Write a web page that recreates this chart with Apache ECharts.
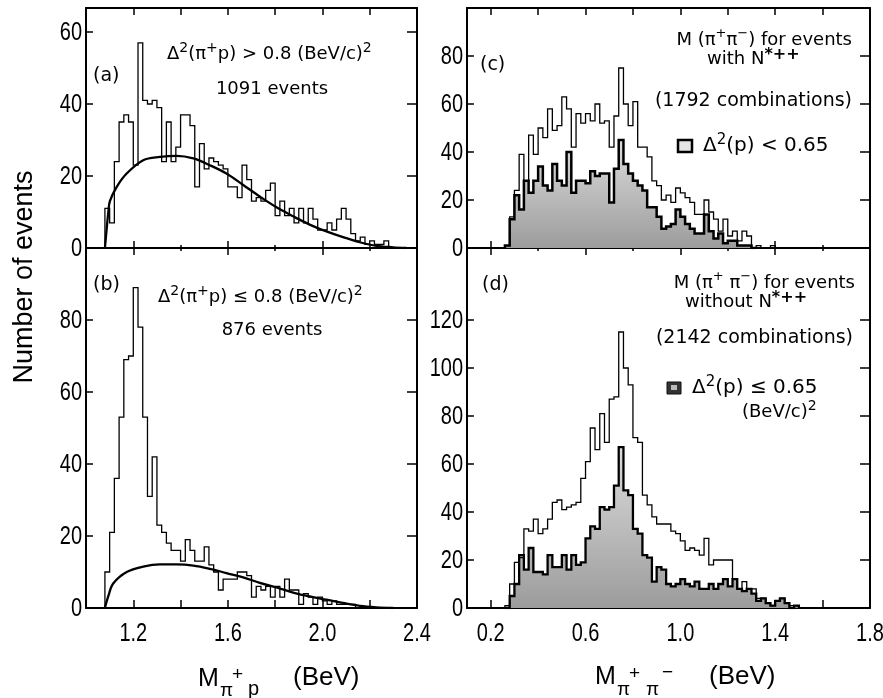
<!DOCTYPE html>
<html><head><meta charset="utf-8">
<script src="https://cdn.jsdelivr.net/npm/echarts@6/dist/echarts.min.js"></script>
<style>html,body{margin:0;padding:0;background:#fff}#c{width:883px;height:698px}</style>
</head><body><div id="c"></div>
<script>
// ---------- data ----------
const binWidth = 0.02;
// (a) M(pi+ p), Delta^2 > 0.8, 1091 events
const aStart = 1.08;
const aCounts = [11,7,24,35,37,35,23,57,41,40,41,39,24,35,24,28,37,37,34,17,29,22,25,24,23,22,17,17,14,23,19,13,14,13,16,18,9,13,9,11,7,11,7,11,8,5,5,7,5,8,11,8,4,2,3,1,2,1,1,2];
const aFitX = [1.08,1.087,1.094,1.101,1.13,1.172,1.242,1.313,1.383,1.454,1.524,1.594,1.665,1.735,1.806,1.876,1.946,2.017,2.087,2.158,2.228,2.299,2.355];
const aFitY = [0,5,9.7,13,17,20.7,24.4,25.3,25.6,24.9,23,20.7,17.5,14.3,11.3,8.8,6.5,4.6,3,1.6,0.6,0.2,0];
// (b) M(pi+ p), Delta^2 <= 0.8, 876 events
const bStart = 1.08;
const bCounts = [10,21,36,53,69,70,89,78,53,31,42,23,21,18,16,16,13,19,16,13,13,17,12,10,5,8,8,8,10,10,9,3,6,5,6,3,6,3,8,5,5,1,4,3,1,3,2,1,2,1,1,1,1];
const bFitX = [1.08,1.094,1.115,1.172,1.242,1.313,1.383,1.454,1.524,1.594,1.665,1.735,1.806,1.876,1.946,2.017,2.087,2.158,2.228,2.3];
const bFitY = [0,3.2,6.8,10,11.5,12.1,12.1,11.8,10.9,9.7,8.5,7,5.7,4.3,3.2,2.3,1.4,0.6,0.2,0];
// (c) M(pi+ pi-) with N*++ : all combinations and Delta^2(p) < 0.65
const cStart = 0.26;
const cAll = [1,13,24,39,28,47,39,50,46,58,49,51,63,58,42,56,52,56,53,60,52,53,42,55,75,60,51,61,42,42,38,28,26,20,22,19,25,23,21,19,14,14,20,15,12,7,12,5,7,3,7,5,0,1,0,0,1];
const cSel = [1,12,22,16,28,23,28,34,26,24,35,28,26,40,23,28,28,27,32,30,31,31,19,33,45,35,31,28,26,24,17,17,13,8,9,10,16,13,10,8,6,6,14,7,4,6,2,3,3,1,1,1,0];
// (d) M(pi+ pi-) without N*++ : all combinations and Delta^2(p) <= 0.65
const dStart = 0.26;
const dAll = [1,10,19,21,33,32,37,31,33,37,44,45,41,42,43,44,54,61,75,66,81,69,87,88,115,100,93,71,69,47,43,38,35,35,35,32,31,28,24,25,24,22,29,18,20,20,20,20,12,8,11,8,8,4,4,2,1,3,4,2,1,1];
const dSel = [0,5,10,22,16,25,15,15,14,22,17,17,22,16,22,18,19,29,34,33,42,41,42,51,67,49,47,33,31,22,21,11,17,16,10,9,10,12,10,9,11,8,8,10,8,10,12,9,12,8,7,8,6,3,4,2,1,3,4,2,0,1];
// axes ticks / labels
const leftXTicks = [1.2,1.4,1.6,1.8,2.0,2.2];
const leftXMajor = [1.2,1.6,2.0];
const leftXMinor = [1.4,1.8,2.2];
const leftXLabels = [1.2,1.6,2.0,2.4];
const rightXTicks = [0.2,0.4,0.6,0.8,1.0,1.2,1.4,1.6];
const rightXMajor = [0.2,0.6,1.0,1.4];
const rightXMinor = [0.4,0.8,1.2,1.6];
const rightXLabels = [0.2,0.6,1.0,1.4,1.8];
const aYLabels = [0,20,40,60], aYTicks = [20,40,60];
const bYLabels = [0,20,40,60,80], bYTicks = [20,40,60,80];
const cYLabels = [0,20,40,60,80], cYTicks = [20,40,60,80];
const dYLabels = [0,20,40,60,80,100,120], dYTicks = [20,40,60,80,100,120];

// ---------- helpers ----------
const BLACK = '#000';
const tickFont = "'Liberation Sans',Arial,sans-serif";
const annFont = "'DejaVu Sans',sans-serif";
const titleFont = "'Liberation Sans',Arial,sans-serif";
function steps(start, counts) {
  const pts = [[start, 0]];
  counts.forEach((v, i) => pts.push([+(start + i * binWidth).toFixed(3), v]));
  pts.push([+(start + counts.length * binWidth).toFixed(3), 0]);
  return pts;
}
function zip(xs, ys) { return xs.map((x, i) => [x, ys[i]]); }
function axis(gridIndex, min, max, position, lineShow, tickVals, tickLen) {
  return {
    type: 'value', gridIndex, min, max, position,
    axisLine: { show: lineShow, onZero: false, lineStyle: { color: BLACK, width: 2 } },
    axisTick: { show: tickVals.length > 0, inside: true, length: tickLen, customValues: tickVals, lineStyle: { color: BLACK, width: 1.5 } },
    axisLabel: { show: false },
    splitLine: { show: false }
  };
}

const xAxis = [
  axis(0, 1.0, 2.4, 'bottom', true, leftXMajor, 7),
  axis(0, 1.0, 2.4, 'bottom', false, leftXMinor, 3),
  axis(0, 1.0, 2.4, 'top', true, leftXTicks, 7),
  axis(1, 1.0, 2.4, 'bottom', true, leftXTicks, 8),
  axis(1, 1.0, 2.4, 'top', false, leftXMajor, 7),
  axis(1, 1.0, 2.4, 'top', false, leftXMinor, 3),
  axis(2, 0.1, 1.8, 'bottom', true, rightXMajor, 7),
  axis(2, 0.1, 1.8, 'bottom', false, rightXMinor, 3),
  axis(2, 0.1, 1.8, 'top', true, rightXTicks, 7),
  axis(3, 0.1, 1.8, 'bottom', true, rightXTicks, 8),
  axis(3, 0.1, 1.8, 'top', false, rightXMajor, 7),
  axis(3, 0.1, 1.8, 'top', false, rightXMinor, 3)
];
const yAxis = [
  axis(0, 0, 66.667, 'left', true, aYTicks, 7),
  axis(0, 0, 66.667, 'right', true, aYTicks, 10),
  axis(1, 0, 100, 'left', true, bYTicks, 7),
  axis(1, 0, 100, 'right', true, bYTicks, 10),
  axis(2, 0, 100, 'left', true, cYTicks, 7),
  axis(2, 0, 100, 'right', true, cYTicks, 10),
  axis(3, 0, 150, 'left', true, dYTicks, 7),
  axis(3, 0, 150, 'right', true, dYTicks, 10)
];

const shade = { type: 'linear', x: 0, y: 0, x2: 0, y2: 1, colorStops: [{ offset: 0, color: '#dcdcdc' }, { offset: 1, color: '#9c9c9c' }] };
function hist(data, xi, yi, width, area) {
  const s = { type: 'line', step: 'end', data, xAxisIndex: xi, yAxisIndex: yi, symbol: 'none', silent: true,
    lineStyle: { color: BLACK, width, join: 'miter' }, z: area ? 2 : 3 };
  if (area) s.areaStyle = { color: shade, opacity: 1, origin: 'start' };
  return s;
}
function fit(data, xi, yi) {
  return { type: 'line', data, smooth: 0.35, xAxisIndex: xi, yAxisIndex: yi, symbol: 'none', silent: true, z: 4,
    lineStyle: { color: BLACK, width: 2.3 } };
}
const series = [
  hist(steps(aStart, aCounts), 0, 0, 1.3),
  fit(zip(aFitX, aFitY), 0, 0),
  hist(steps(bStart, bCounts), 3, 2, 1.3),
  fit(zip(bFitX, bFitY), 3, 2),
  hist(steps(cStart, cSel), 6, 4, 2.5, true),
  hist(steps(cStart, cAll), 6, 4, 1.3),
  hist(steps(dStart, dSel), 9, 6, 2.3, true),
  hist(steps(dStart, dAll), 9, 6, 1.3)
];

const chart = echarts.init(document.getElementById('c'), null, { renderer: 'canvas' });
chart.setOption({
  animation: false,
  backgroundColor: '#fff',
  grid: [
    { left: 86, top: 8, width: 331, height: 240 },
    { left: 86, top: 248, width: 331, height: 360 },
    { left: 467, top: 8, width: 403, height: 240 },
    { left: 467, top: 248, width: 403, height: 360 }
  ],
  xAxis, yAxis, series
});

// ---------- text ----------
function T(text, x, y, size, align, family) {
  return { type: 'text', z: 10, silent: true,
    style: { text, x, y, fill: BLACK, font: 'normal ' + size + 'px ' + (family || annFont), textAlign: align || 'left', textVerticalAlign: 'middle' } };
}
function R(text, x, y, size, sup, align) {
  return { type: 'text', z: 10, silent: true,
    style: { text, x, y, fill: BLACK, textAlign: align || 'left', textVerticalAlign: 'middle',
      rich: {
        n: { fontSize: size, fontFamily: annFont, lineHeight: size + 7, fill: BLACK },
        s: { fontSize: sup, fontFamily: annFont, lineHeight: sup, verticalAlign: 'top', fill: BLACK },
        a: { fontSize: sup + 3, fontFamily: annFont, fontWeight: 'bold', lineHeight: sup + 2, verticalAlign: 'top', fill: BLACK }
      } } };
}
const graphic = [
  { type: 'text', silent: true, x: 25, y: 277, rotation: Math.PI / 2,
    style: { text: 'Number of events', x: 0, y: 0, fill: BLACK, font: 'normal 27px ' + titleFont, textAlign: 'center', textVerticalAlign: 'middle' } },
  T('M', 198, 679, 25, 'left', titleFont),
  T('π', 220, 691, 19, 'left', titleFont),
  T('+', 232, 675, 19, 'left', titleFont),
  T('p', 248, 689, 20, 'left', titleFont),
  T('(BeV)', 293, 678, 26, 'left', titleFont),
  T('M', 595, 677, 25, 'left', titleFont),
  T('π', 617, 690, 19, 'left', titleFont),
  T('+', 629, 674, 19, 'left', titleFont),
  T('π', 646, 690, 19, 'left', titleFont),
  T('−', 662, 673, 19, 'left', titleFont),
  T('(BeV)', 709, 677, 26, 'left', titleFont),
  // (a)
  T('(a)', 93, 76, 19),
  R('{n|Δ}{s|2}{n|(π}{s|+}{n|p) > 0.8 (BeV/c)}{s|2}', 167, 54, 18, 14),
  T('1091 events', 272, 89, 18, 'center'),
  // (b)
  T('(b)', 93, 285, 19),
  R('{n|Δ}{s|2}{n|(π}{s|+}{n|p) ≤ 0.8 (BeV/c)}{s|2}', 158, 297, 18, 14),
  T('876 events', 272, 330, 18, 'center'),
  // (c)
  T('(c)', 480, 65, 19),
  R('{n|M (π}{s|+}{n|π}{s|−}{n|) for events}', 852, 40, 18, 13, 'right'),
  R('{n|with N}{a|*++}', 707, 59, 18, 13),
  T('(1792 combinations)', 852, 101, 19, 'right'),
  { type: 'rect', silent: true, z: 10, shape: { x: 678, y: 140, width: 14, height: 12 }, style: { fill: '#e4e4e4', stroke: BLACK, lineWidth: 2.5 } },
  R('{n|Δ}{s|2}{n|(p) < 0.65}', 703, 146, 20, 15),
  // (d)
  T('(d)', 482, 285, 19),
  R('{n|M (π}{s|+}{n| π}{s|−}{n|) for events}', 855, 283, 18, 13, 'right'),
  R('{n|without N}{a|*++}', 685, 302, 18, 13),
  T('(2142 combinations)', 853, 338, 19, 'right'),
  { type: 'rect', silent: true, z: 10, shape: { x: 667, y: 382, width: 14, height: 12 }, style: { fill: '#333', stroke: '#111', lineWidth: 1 } },
  { type: 'rect', silent: true, z: 11, shape: { x: 671, y: 385, width: 6, height: 5 }, style: { fill: '#bbbbbb' } },
  R('{n|Δ}{s|2}{n|(p) ≤ 0.65}', 692, 388, 20, 15),
  R('{n|(BeV/c)}{s|2}', 742, 412, 18, 14)
];

// tick labels, placed through the axes' own scales (condensed digits)
function xLabels(xAxisIdx, yAxisIdx, vals) {
  const y0 = chart.convertToPixel({ yAxisIndex: yAxisIdx }, 0);
  vals.forEach(v => {
    const px = chart.convertToPixel({ xAxisIndex: xAxisIdx }, v);
    graphic.push({ type: 'text', silent: true, z: 10, x: px, y: y0 + 26, scaleX: 0.8,
      style: { text: v.toFixed(1), x: 0, y: 0, fill: BLACK, font: 'normal 25px ' + tickFont, textAlign: 'center', textVerticalAlign: 'middle' } });
  });
}
function yLabels(xAxisIdx, xMin, yAxisIdx, vals) {
  const x0 = chart.convertToPixel({ xAxisIndex: xAxisIdx }, xMin);
  vals.forEach(v => {
    const py = chart.convertToPixel({ yAxisIndex: yAxisIdx }, v);
    graphic.push({ type: 'text', silent: true, z: 10, x: x0 - 4, y: py + 1, scaleX: 0.8,
      style: { text: String(v), x: 0, y: 0, fill: BLACK, font: 'normal 25px ' + tickFont, textAlign: 'right', textVerticalAlign: 'middle' } });
  });
}
xLabels(3, 2, leftXLabels);
xLabels(9, 6, rightXLabels);
yLabels(0, 1.0, 0, aYLabels);
yLabels(3, 1.0, 2, bYLabels);
yLabels(6, 0.1, 4, cYLabels);
yLabels(9, 0.1, 6, dYLabels);

chart.setOption({ graphic });
</script></body></html>
